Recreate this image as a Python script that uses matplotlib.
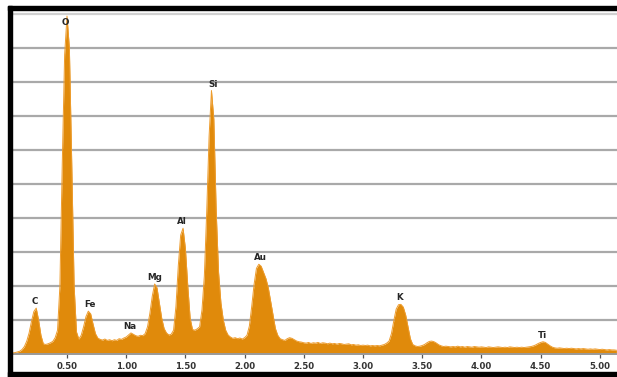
import numpy as np
import matplotlib.pyplot as plt
from matplotlib.patches import Rectangle

# EDS spectrum, one value every 0.02 keV starting at 0.04 keV
E_START = 0.04
E_STEP = 0.02

counts = [
    3, 4, 6, 8, 13, 22, 38, 62, 96, 125,              # 0.04 - 0.22
    135, 100, 55, 30, 28, 30, 33, 37, 48, 70,          # 0.24 - 0.42
    200, 560, 880, 994, 900, 560, 200, 65, 44, 55,     # 0.44 - 0.62
    80, 110, 126, 118, 88, 60, 47, 43, 41, 44,         # 0.64 - 0.82
    40, 42, 39, 42, 40, 45, 43, 47, 50, 56,            # 0.84 - 1.02
    62, 58, 54, 52, 55, 54, 60, 80, 120, 170,          # 1.04 - 1.22
    206, 195, 150, 105, 75, 62, 56, 58, 70, 140,       # 1.24 - 1.42
    260, 350, 370, 310, 200, 105, 72, 70, 74, 80,      # 1.44 - 1.62
    130, 230, 420, 640, 775, 690, 420, 240, 150, 100,  # 1.64 - 1.82
    70, 56, 50, 46, 48, 45, 47, 44, 48, 55,            # 1.84 - 2.02
    82, 140, 205, 252, 264, 258, 240, 222, 195, 155,   # 2.04 - 2.22
    115, 75, 55, 45, 42, 40, 45, 48, 46, 42,           # 2.24 - 2.42
    38, 36, 35, 33, 32, 34, 31, 33, 32, 34,            # 2.44 - 2.62
    31, 33, 32, 30, 32, 30, 31, 29, 31, 30,            # 2.64 - 2.82
    28, 29, 30, 27, 28, 26, 27, 25, 26, 25,            # 2.84 - 3.02
    26, 24, 25, 24, 25, 24, 26, 28, 32, 38,            # 3.04 - 3.22
    60, 98, 132, 145, 146, 138, 115, 80, 45, 28,       # 3.24 - 3.42
    24, 22, 23, 25, 28, 33, 37, 38, 36, 32,            # 3.44 - 3.62
    27, 24, 22, 23, 22, 21, 22, 21, 23, 21,            # 3.64 - 3.82
    22, 20, 22, 21, 20, 22, 21, 20, 21, 20,            # 3.84 - 4.02
    19, 21, 20, 19, 20, 21, 20, 19, 20, 19,            # 4.04 - 4.22
    21, 20, 19, 20, 19, 20, 19, 20, 21, 22,            # 4.24 - 4.42
    24, 27, 31, 34, 36, 34, 29, 24, 20, 18,            # 4.44 - 4.62
    17, 18, 17, 16, 17, 16, 17, 16, 15, 16,            # 4.64 - 4.82
    15, 16, 15, 14, 15, 14, 15, 14, 13, 14,            # 4.84 - 5.02
    13, 12, 13, 12, 12, 11,                            # 5.04 - 5.14
]

peak_labels = ['C', 'O', 'Fe', 'Na', 'Mg', 'Al', 'Si', 'Au', 'K', 'Ti']
peak_energies = [0.23, 0.49, 0.69, 1.03, 1.24, 1.47, 1.73, 2.13, 3.31, 4.52]

tick_values = [0.5, 1.0, 1.5, 2.0, 2.5, 3.0, 3.5, 4.0, 4.5, 5.0]
tick_labels = ['0.50', '1.00', '1.50', '2.00', '2.50', '3.00', '3.50', '4.00', '4.50', '5.00']

grid_levels = [100, 200, 300, 400, 500, 600, 700, 800, 900, 1000]

counts = np.array(counts, dtype=float)
energy = E_START + E_STEP * np.arange(len(counts))

W, H = 617, 377
fig = plt.figure(figsize=(W / 100, H / 100), dpi=100)
fig.patch.set_facecolor('white')

# plot region in pixels: x 12..617, y 10..354
ax = fig.add_axes([12 / W, (H - 354) / H, 605 / W, 344 / H])
ax.set_xlim(0.0355, 5.145)
ax.set_ylim(0, 1011.8)
ax.set_facecolor('white')

for lvl in grid_levels:
    col = '#d0d0d0' if lvl == 1000 else '#a9a9a9'
    ax.axhline(lvl, color=col, lw=1.6, zorder=1)

ax.fill_between(energy, 0, counts, color='#e08a0b', lw=0, zorder=2)
ax.plot(energy, counts, color='#ee9c2c', lw=0.7, zorder=3)

# element labels sit just above their peaks
for name, e in zip(peak_labels, peak_energies):
    i = int(round((e - E_START) / E_STEP))
    top = counts[max(i - 1, 0):i + 2].max()
    y = min(top + 19, 976)
    ax.text(e, y, name, ha='center', va='center', fontsize=6.3,
            fontweight='bold', color='#262626', zorder=4)

ax.set_xticks(tick_values)
ax.set_xticklabels(tick_labels)
ax.set_yticks([])
ax.tick_params(axis='x', direction='out', length=3, width=0.9, color='#555555',
               labelsize=6.2, labelcolor='#333333', pad=2.5)
for lbl in ax.get_xticklabels():
    lbl.set_fontweight('bold')

for side in ['top', 'right', 'left']:
    ax.spines[side].set_visible(False)
ax.spines['bottom'].set_color('#9a9a9a')
ax.spines['bottom'].set_linewidth(1.4)

# black frame: left, top and bottom bars
fig.patches.append(Rectangle((8 / W, 0), 4 / W, (H - 6) / H, transform=fig.transFigure,
                             color='black', zorder=10))
fig.patches.append(Rectangle((8 / W, (H - 10) / H), (W - 8) / W, 4 / H,
                             transform=fig.transFigure, color='black', zorder=10))
fig.patches.append(Rectangle((8 / W, 0), (W - 8) / W, 5 / H, transform=fig.transFigure,
                             color='black', zorder=10))

fig.savefig('out.png', dpi=100)
